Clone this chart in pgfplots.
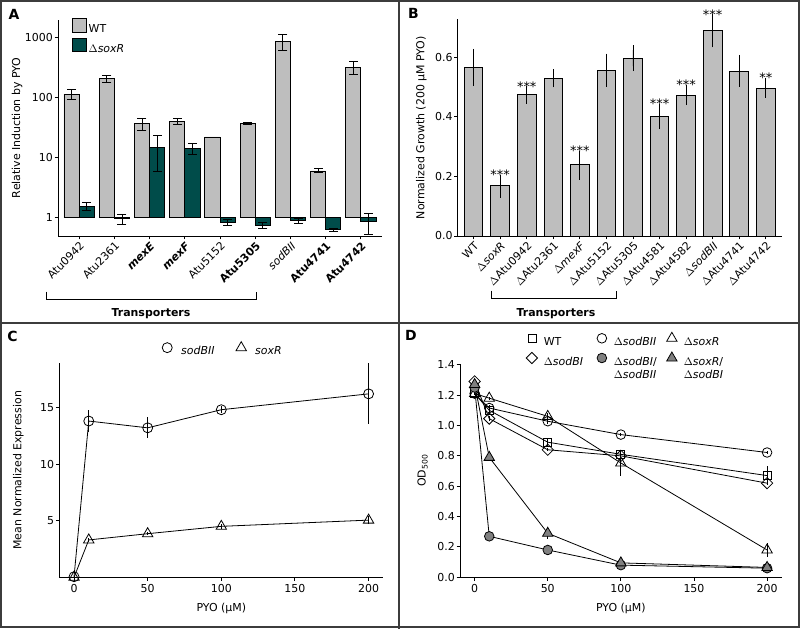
\documentclass[border=0pt]{standalone}
\usepackage{pgfplots}
\pgfplotsset{compat=1.18}
\usepackage{fontspec}
\setmainfont{DejaVu Sans}
\definecolor{barg}{RGB}{190,190,190}
\definecolor{tealbar}{RGB}{0,76,74}
\definecolor{fgray}{RGB}{128,128,128}
\definecolor{framec}{RGB}{60,60,60}
\newcommand{\fs}{\fontsize{11}{13}\selectfont}
\begin{document}
\begin{tikzpicture}[x=1bp,y=1bp]
\useasboundingbox (0,0) rectangle (800,629);
\pgfplotsset{
  base/.style={
    scale only axis, anchor=south west, clip=false,
    axis x line*=bottom, axis y line*=left,
    axis line style={black, line width=0.9bp, -},
    major tick style={black, line width=0.9bp},
    tick align=outside, major tick length=3.5bp,
    minor tick length=0pt,
    /pgf/number format/assume math mode=true,
    ticklabel style={font=\fs, text=black},
    label style={font=\fs},
    legend style={draw=none, fill=none, inner sep=0pt, font=\fs, cells={anchor=west}},
  },
  ebar/.style={error bars/y dir=both, error bars/y explicit,
    error bars/error bar style={black, line width=0.8bp},
    error bars/error mark=-,
    error bars/error mark options={black, mark size=5bp, line width=0.8bp}},
  ebarn/.style={error bars/y dir=both, error bars/y explicit,
    error bars/error bar style={black, line width=0.8bp},
    error bars/error mark=none},
  mkleg/.style={legend image code/.code={\path[draw=none, fill=none] (-6bp,0bp) rectangle (6bp,7bp); \draw[##1] plot coordinates {(0bp,3.8bp)};}},
}
% ---------------- Panel A ----------------
\begin{axis}[base, at={(58bp,393bp)}, width=324bp, height=216bp,
  ymode=log, log origin y=0, ymin=0.5, ymax=1920, xmin=0.4, xmax=9.6,
  ytick={1,10,100,1000}, yticklabels={1,10,100,1000},
  yticklabel style={inner sep=1.5bp},
  xtick={1,...,9},
  xticklabels={Atu0942,Atu2361,\textbf{\textit{mexE}},\textbf{\textit{mexF}},Atu5152,\textbf{Atu5305},\textit{sodBII},\textbf{Atu4741},\textbf{Atu4742}},
  xticklabel style={rotate=45, anchor=north east, inner sep=1bp},
  ylabel={Relative Induction by PYO},
  ylabel style={at={(axis description cs:-0.1265,0.5)}, anchor=center},
  legend image code/.code={\draw[#1] (0bp,-2.6bp) rectangle (14bp,10.6bp);},
  legend style={at={(axis description cs:0.0423,1.008)}, anchor=north west, row sep=2bp},
]
\addplot[ybar, bar width=0.43, bar shift=0, fill=barg, draw=black, line width=0.8bp] coordinates {
 (0.785,113) (1.785,206) (2.785,37) (3.785,40) (4.785,22) (5.785,36.6) (6.785,858) (7.785,6.0) (8.785,314)};
\addlegendentry{WT}
\addplot[ybar, bar width=0.43, bar shift=0, fill=tealbar, draw=black, line width=0.8bp] coordinates {
 (1.215,1.56) (2.215,0.97) (3.215,14.6) (4.215,14.3) (5.215,0.83) (6.215,0.76) (7.215,0.89) (8.215,0.64) (9.215,0.86)};
\addlegendentry{$\Delta$\textit{soxR}}
\addplot[black, line width=0.8bp, mark=-, mark size=4.5bp, mark options={solid, line width=0.8bp}, unbounded coords=jump, forget plot] coordinates {
 (0.785,94) (0.785,134) (0.785,nan)
 (1.785,177) (1.785,235) (1.785,nan)
 (2.785,28.5) (2.785,45) (2.785,nan)
 (3.785,35.5) (3.785,45) (3.785,nan)
 (5.785,35.2) (5.785,38.6) (5.785,nan)
 (6.785,601) (6.785,1107) (6.785,nan)
 (7.785,5.57) (7.785,6.6) (7.785,nan)
 (8.785,238) (8.785,395) (8.785,nan)
 (1.215,1.34) (1.215,1.82) (1.215,nan)
 (2.215,0.775) (2.215,1.14) (2.215,nan)
 (3.215,5.9) (3.215,23.2) (3.215,nan)
 (4.215,11.2) (4.215,17.0) (4.215,nan)
 (5.215,0.74) (5.215,0.93) (5.215,nan)
 (6.215,0.66) (6.215,0.85) (6.215,nan)
 (7.215,0.81) (7.215,0.97) (7.215,nan)
 (8.215,0.59) (8.215,0.68) (8.215,nan)
 (9.215,0.54) (9.215,1.18)};
\end{axis}
% ---------------- Panel B ----------------
\begin{axis}[base, at={(457.7bp,393bp)}, width=324bp, height=216.7bp,
  ymin=0, ymax=0.728, xmin=0.4, xmax=12.6,
  ytick={0,0.2,0.4,0.6},
  yticklabel style={inner sep=1.5bp, /pgf/number format/fixed, /pgf/number format/fixed zerofill, /pgf/number format/precision=1},
  xtick={1,...,12},
  xticklabels={WT,$\Delta$\textit{soxR},$\Delta$Atu0942,$\Delta$Atu2361,$\Delta$\textit{mexF},$\Delta$Atu5152,$\Delta$Atu5305,$\Delta$Atu4581,$\Delta$Atu4582,$\Delta$\textit{sodBII},$\Delta$Atu4741,$\Delta$Atu4742},
  xticklabel style={rotate=45, anchor=north east, inner sep=1bp},
  ylabel={Normalized Growth (200 µM PYO)},
  ylabel style={at={(axis description cs:-0.112,0.5)}, anchor=center},
]
\addplot[ybar, bar width=0.7, bar shift=0, fill=barg, draw=black, line width=0.9bp, ebar]
 table[x=x, y=y, y error plus=ep, y error minus=em] {
x y ep em
1 0.566 0.046 0.046
2 0.169 0.020 0.023
3 0.475 0.012 0.014
4 0.530 0.014 0.014
5 0.239 0.030 0.034
6 0.557 0.039 0.039
7 0.597 0.027 0.026
8 0.402 0.026 0.026
9 0.473 0.019 0.017
10 0.689 0.039 0.039
11 0.554 0.038 0.036
12 0.497 0.017 0.016
};
\addplot[only marks, mark=none, nodes near coords, point meta=explicit symbolic,
  nodes near coords style={anchor=base, inner sep=0pt, font=\fontsize{13}{13}\selectfont}]
 table[x=x, y=y, meta=s] {
x y s
2 0.189 ***
3 0.487 ***
5 0.269 ***
8 0.428 ***
9 0.492 ***
10 0.728 ***
12 0.514 **
};
\end{axis}
% ---------------- Panel C ----------------
\begin{axis}[base, at={(59.3bp,51.7bp)}, width=324bp, height=214bp,
  xmin=-10, xmax=210, ymin=0, ymax=18.9,
  xtick={0,50,100,150,200}, ytick={5,10,15},
  yticklabel style={inner sep=1.5bp},
  xlabel={PYO (µM)}, ylabel={Mean Normalized Expression},
  xlabel style={at={(axis description cs:0.5,-0.145)}, anchor=center},
  ylabel style={at={(axis description cs:-0.1265,0.5)}, anchor=center},
  mkleg, legend columns=2,
  legend style={at={(axis description cs:0.314,1.062)}, anchor=west, column sep=6bp},
]
\addplot[black, line width=0.8bp, mark=o, mark size=5bp, mark options={line width=0.8bp}, ebarn]
 table[x=x, y=y, y error=e] {
x y e
0 0.05 0.05
10 13.8 1.0
50 13.2 0.93
100 14.8 0.3
200 16.2 2.7
};
\addlegendentry{\makebox[46bp][l]{\textit{sodBII}}}
\addplot[black, line width=0.8bp, mark=triangle, mark size=6bp, mark options={line width=0.8bp}, ebarn]
 table[x=x, y=y, y error=e] {
x y e
0 0.0 0.0
10 3.3 0.15
50 3.85 0.15
100 4.5 0.2
200 5.05 0.35
};
\addlegendentry{\textit{soxR}}
\end{axis}
% ---------------- Panel D ----------------
\begin{axis}[base, at={(460bp,51.7bp)}, width=321.7bp, height=213.3bp,
  xmin=-10, xmax=210, ymin=0, ymax=1.405,
  xtick={0,50,100,150,200}, ytick={0,0.2,0.4,0.6,0.8,1.0,1.2,1.4},
  yticklabel style={inner sep=1.5bp, /pgf/number format/fixed, /pgf/number format/fixed zerofill, /pgf/number format/precision=1},
  xlabel={PYO (µM)}, ylabel={OD\textsubscript{500}},
  xlabel style={at={(axis description cs:0.5,-0.1453)}, anchor=center},
  ylabel style={at={(axis description cs:-0.116,0.5)}, anchor=center},
  mkleg, legend columns=3,
  legend style={at={(axis description cs:0.2042,1.1495)}, anchor=north west, column sep=4bp, row sep=3bp},
]
\addplot[black, line width=0.8bp, mark=square, mark size=4bp, mark options={line width=0.8bp}, ebarn]
 table[x=x, y=y, y error=e] {
x y e
0 1.21 0.01
10 1.10 0.02
50 0.89 0.03
100 0.81 0.02
200 0.67 0.065
};
\addlegendentry{\makebox[46bp][l]{WT}}
\addplot[black, line width=0.8bp, mark=o, mark size=4.8bp, mark options={line width=0.8bp}, ebarn]
 table[x=x, y=y, y error=e] {
x y e
0 1.21 0.01
10 1.115 0.02
50 1.028 0.015
100 0.94 0.01
200 0.822 0.01
};
\addlegendentry{\makebox[46bp][l]{$\Delta$\textit{sodBII}}}
\addplot[black, line width=0.8bp, mark=triangle, mark size=6bp, mark options={line width=0.8bp}, ebarn]
 table[x=x, y=y, y error=e] {
x y e
0 1.21 0.01
10 1.18 0.01
50 1.06 0.02
100 0.753 0.088
200 0.18 0.045
};
\addlegendentry{$\Delta$\textit{soxR}}
\addplot[black, line width=0.8bp, mark=square, mark size=4bp, mark options={line width=0.8bp, rotate=45}, ebarn]
 table[x=x, y=y, y error=e] {
x y e
0 1.29 0.01
10 1.045 0.015
50 0.84 0.01
100 0.80 0.01
200 0.62 0.01
};
\addlegendentry{\makebox[46bp][l]{$\Delta$\textit{sodBI}}}
\addplot[black, line width=0.8bp, mark=*, mark size=4.8bp, mark options={line width=0.8bp, fill=fgray}, ebarn]
 table[x=x, y=y, y error=e] {
x y e
0 1.25 0.01
10 0.27 0.01
50 0.18 0.015
100 0.08 0.005
200 0.06 0.005
};
\addlegendentry{\parbox[t]{46bp}{$\Delta$\textit{sodBI}/\\$\Delta$\textit{sodBII}}}
\addplot[black, line width=0.8bp, mark=triangle*, mark size=6bp, mark options={line width=0.8bp, fill=fgray}, ebarn]
 table[x=x, y=y, y error=e] {
x y e
0 1.27 0.01
10 0.79 0.02
50 0.29 0.04
100 0.095 0.01
200 0.065 0.01
};
\addlegendentry{\parbox[t]{46bp}{$\Delta$\textit{soxR}/\\$\Delta$\textit{sodBI}}}
\end{axis}
% ---------------- annotations ----------------
\draw[black, line width=0.9bp] (46.7,337.3) -- (46.7,330) -- (256,330) -- (256,337.3);
\node[font=\bfseries\fs] at (151,315) {Transporters};
\draw[black, line width=0.9bp] (491,338.3) -- (491,331) -- (616,331) -- (616,338.3);
\node[font=\bfseries\fs] at (556,315) {Transporters};
\node[font=\bfseries\fontsize{14}{14}\selectfont] at (14,615) {A};
\node[font=\bfseries\fontsize{14}{14}\selectfont] at (413.5,616) {B};
\node[font=\bfseries\fontsize{14}{14}\selectfont] at (12.5,293) {C};
\node[font=\bfseries\fontsize{14}{14}\selectfont] at (411,294) {D};
\draw[framec, line width=2bp] (1,2.3) rectangle (798.7,628);
\draw[framec, line width=2bp] (399.3,0) -- (399.3,629);
\draw[framec, line width=2bp] (0,306.3) -- (800,306.3);
\end{tikzpicture}
\end{document}
